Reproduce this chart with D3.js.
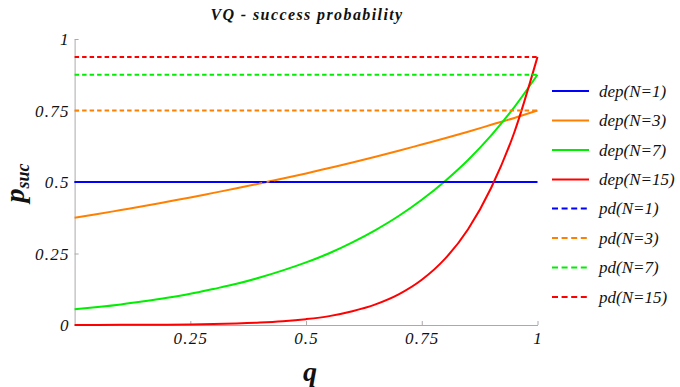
<!DOCTYPE html>
<html>
<head>
<meta charset="utf-8">
<script src="https://cdn.jsdelivr.net/npm/d3@7/dist/d3.min.js"></script>
<style>
  html, body { margin: 0; padding: 0; background: #fff; }
  svg { display: block; }
</style>
</head>
<body>
<svg id="chart" width="680" height="387"></svg>
<script>
// ---- data ----
const qValues = [0, 0.05, 0.1, 0.15, 0.2, 0.25, 0.3, 0.35, 0.4, 0.45, 0.5,
                 0.55, 0.6, 0.65, 0.7, 0.75, 0.8, 0.85, 0.9, 0.95, 1];
const depN1  = [0.5, 0.5, 0.5, 0.5, 0.5, 0.5, 0.5, 0.5, 0.5, 0.5, 0.5,
                0.5, 0.5, 0.5, 0.5, 0.5, 0.5, 0.5, 0.5, 0.5, 0.5];
const depN3  = [0.375, 0.388, 0.402, 0.416, 0.431, 0.446, 0.462, 0.478, 0.495, 0.512, 0.530,
                0.549, 0.568, 0.588, 0.609, 0.631, 0.653, 0.676, 0.700, 0.724, 0.750];
const depN7  = [0.055, 0.063, 0.072, 0.083, 0.095, 0.109, 0.126, 0.144, 0.166, 0.191, 0.219,
                0.251, 0.289, 0.332, 0.381, 0.438, 0.503, 0.577, 0.663, 0.762, 0.875];
const depN15 = [0.0002, 0.0003, 0.0005, 0.0008, 0.0013, 0.0021, 0.0033, 0.0053, 0.0084, 0.0132, 0.0205,
                0.031, 0.048, 0.072, 0.107, 0.158, 0.231, 0.335, 0.48, 0.674, 0.9375];
const pdN1  = 0.5;
const pdN3  = 0.75;
const pdN7  = 0.875;
const pdN15 = 0.9375;

const xTicks = [0.25, 0.5, 0.75, 1];
const yTicks = [0, 0.25, 0.5, 0.75, 1];
const xTickLabels = ["0.25", "0.5", "0.75", "1"];
const yTickLabels = ["0", "0.25", "0.5", "0.75", "1"];

const seriesNames = ["dep(N=1)", "dep(N=3)", "dep(N=7)", "dep(N=15)",
                     "pd(N=1)", "pd(N=3)", "pd(N=7)", "pd(N=15)"];
const colors = ["#0000ff", "#ff8000", "#00ee00", "#ff0000"];
const titleText = "VQ - success probability";

const SERIF = "'Liberation Serif', 'DejaVu Serif', 'Times New Roman', serif";

// ---- layout ----
const svg = d3.select("#chart");
const x = d3.scaleLinear().domain([0, 1]).range([74.6, 537.5]);
const y = d3.scaleLinear().domain([0, 1]).range([325, 39]);

function serifText(sel, size, bold) {
  return sel.attr("font-family", SERIF).style("font-family", SERIF)
    .style("font-style", "italic").style("font-size", size + "px")
    .style("font-weight", bold ? "bold" : "normal").attr("fill", "#111");
}

// axes
const xAxis = d3.axisBottom(x).tickValues(xTicks).tickSizeInner(-4).tickSizeOuter(0)
  .tickFormat((d, i) => xTickLabels[i]);
const yAxis = d3.axisLeft(y).tickValues(yTicks).tickSizeInner(-4).tickSizeOuter(0)
  .tickFormat((d, i) => yTickLabels[i]);

const gx = svg.append("g").attr("transform", `translate(0,${y(0)})`).call(xAxis);
const gy = svg.append("g").attr("transform", `translate(${x(0)},0)`).call(yAxis);
[gx, gy].forEach(g => {
  g.attr("font-family", SERIF);
  g.select(".domain").attr("stroke", "#aaaaaa").attr("stroke-width", 1);
  g.selectAll(".tick line").attr("stroke", "#aaaaaa");
  serifText(g.selectAll(".tick text"), 17, false).style("letter-spacing", "1.2px");
});
gx.selectAll(".tick text").attr("dy", null).attr("y", 19);
gy.selectAll(".tick text").attr("x", -5).attr("dy", "0.33em");

// curves
const depSeries = [depN1, depN3, depN7, depN15];
const line = d3.line().x((d, i) => x(qValues[i])).y(d => y(d)).curve(d3.curveMonotoneX);
const plot = svg.append("g");
depSeries.forEach((vals, k) => {
  plot.append("path").attr("d", line(vals)).attr("fill", "none")
    .attr("stroke", colors[k]).attr("stroke-width", 2);
});
const pdValues = [pdN1, pdN3, pdN7, pdN15];
pdValues.forEach((v, k) => {
  plot.append("line").attr("x1", x(0)).attr("x2", x(1)).attr("y1", y(v)).attr("y2", y(v))
    .attr("stroke", colors[k]).attr("stroke-width", 2).attr("stroke-dasharray", "4.5,3");
});

// title
serifText(svg.append("text"), 16, true).attr("x", 307).attr("y", 20)
  .attr("text-anchor", "middle").style("letter-spacing", "1.4px").text(titleText);

// axis labels
serifText(svg.append("text"), 28, true).attr("x", 310).attr("y", 381)
  .attr("text-anchor", "middle").text("q");
const yl = serifText(svg.append("text"), 28, true)
  .attr("transform", "translate(24,183) rotate(-90)")
  .attr("text-anchor", "middle");
yl.append("tspan").text("p");
yl.append("tspan").style("font-size", "18px").attr("dy", 5).text("suc");

// legend
const legRowY = [91, 120.5, 150, 179.5, 208.5, 238, 267.5, 297];
const leg = svg.append("g");
seriesNames.forEach((name, i) => {
  const yy = legRowY[i];
  leg.append("line").attr("x1", 552).attr("x2", 589).attr("y1", yy).attr("y2", yy)
    .attr("stroke", colors[i % 4]).attr("stroke-width", 2)
    .attr("stroke-dasharray", i >= 4 ? "6,3.6" : null);
  serifText(leg.append("text"), 17, false).attr("x", 599).attr("y", yy).attr("dy", "0.35em")
    .style("letter-spacing", "0px").text(name);
});
</script>
</body>
</html>
